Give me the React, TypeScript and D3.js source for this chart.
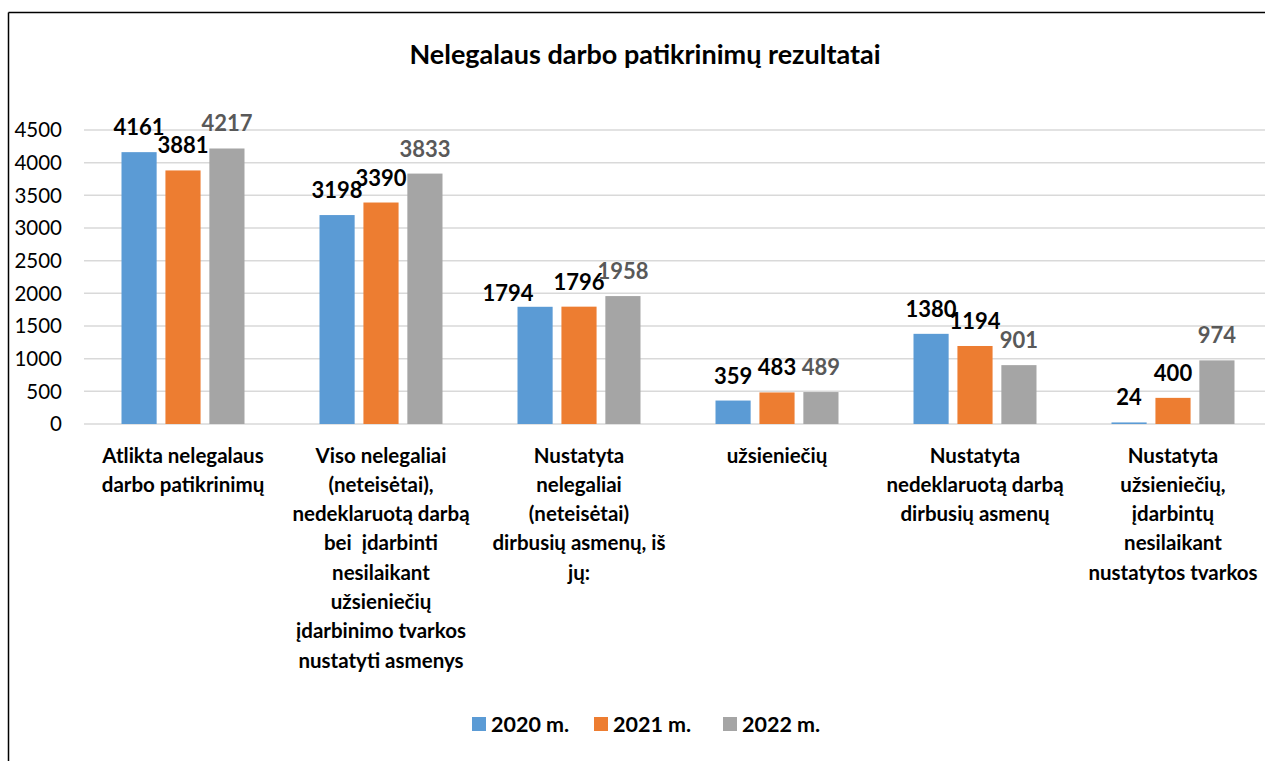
import React from "react";
import * as d3 from "d3";

const categories: string[][] = [
  ["Atlikta nelegalaus", "darbo patikrinimų"],
  ["Viso nelegaliai", "(neteisėtai),", "nedeklaruotą darbą", "bei  įdarbinti", "nesilaikant", "užsieniečių", "įdarbinimo tvarkos", "nustatyti asmenys"],
  ["Nustatyta", "nelegaliai", "(neteisėtai)", "dirbusių asmenų, iš", "jų:"],
  ["užsieniečių"],
  ["Nustatyta", "nedeklaruotą darbą", "dirbusių asmenų"],
  ["Nustatyta", "užsieniečių,", "įdarbintų", "nesilaikant", "nustatytos tvarkos"],
];

const seriesNames = ["2020 m.", "2021 m.", "2022 m."];
const values2020 = [4161, 3198, 1794, 359, 1380, 24];
const values2021 = [3881, 3390, 1796, 483, 1194, 400];
const values2022 = [4217, 3833, 1958, 489, 901, 974];
const yTicks = [0, 500, 1000, 1500, 2000, 2500, 3000, 3500, 4000, 4500];
const title = "Nelegalaus darbo patikrinimų rezultatai";

const colors = ["#5B9BD5", "#ED7D31", "#A5A5A5"];
const labelColors = ["#000000", "#000000", "#595959"];
// manual label nudges (layout only): "series-category" -> [dx, dy]
const labelNudge: Record<string, [number, number]> = { "0-2": [-27, 11] };

const W = 1265;
const H = 761;
const FONT = "Lato, 'Open Sans', sans-serif";

export default function App() {
  const series = [values2020, values2021, values2022];
  const left = 84;
  const step = 198;
  const x0 = d3
    .scaleBand<number>()
    .domain(d3.range(categories.length))
    .range([left, left + step * categories.length]);
  const groupW = 123;
  const x1 = d3
    .scaleBand<number>()
    .domain(d3.range(3))
    .range([0, groupW])
    .paddingInner(0.2);
  const y = d3.scaleLinear().domain([0, 4500]).range([424, 130]);

  return (
    <svg
      width={W}
      height={H}
      style={{ position: "absolute", left: 0, top: 0, background: "#fff" }}
    >
      <rect x={0} y={0} width={W} height={H} fill="#fff" />
      <line x1={8.5} y1={12.5} x2={W + 10} y2={12.5} stroke="#000" strokeWidth={1.5} />
      <line x1={8.5} y1={12.5} x2={8.5} y2={H + 10} stroke="#000" strokeWidth={1.5} />

      <text
        x={645}
        y={63.5}
        textAnchor="middle"
        fontFamily={FONT}
        fontWeight={700}
        fontSize={27}
        fill="#000"
      >
        {title}
      </text>

      {yTicks.map((t) => (
        <line
          key={"g" + t}
          x1={left}
          x2={W + 10}
          y1={y(t)}
          y2={y(t)}
          stroke="#D9D9D9"
          strokeWidth={1.5}
        />
      ))}
      {yTicks.map((t) => (
        <text
          key={"t" + t}
          x={62}
          y={y(t) + 7.4}
          textAnchor="end"
          fontFamily={FONT}
          fontSize={20.5}
          fill="#000"
        >
          {t}
        </text>
      ))}

      {categories.map((_, ci) => {
        const gx = (x0(ci) as number) + (step - groupW) / 2;
        return series.map((vals, si) => {
          const bx = gx + (x1(si) as number);
          const v = vals[ci];
          return (
            <rect
              key={`b${ci}-${si}`}
              x={bx}
              y={y(v)}
              width={x1.bandwidth()}
              height={y(0) - y(v)}
              fill={colors[si]}
            />
          );
        });
      })}

      {categories.map((_, ci) => {
        const gx = (x0(ci) as number) + (step - groupW) / 2;
        return series.map((vals, si) => {
          const bx = gx + (x1(si) as number) + x1.bandwidth() / 2;
          const v = vals[ci];
          const n = labelNudge[`${si}-${ci}`] || [0, 0];
          return (
            <text
              key={`l${ci}-${si}`}
              x={bx + n[0]}
              y={y(v) - 17 + n[1]}
              textAnchor="middle"
              fontFamily={FONT}
              fontWeight={700}
              fontSize={22}
              fill={labelColors[si]}
            >
              {v}
            </text>
          );
        });
      })}

      {categories.map((lines, ci) => {
        const cx = (x0(ci) as number) + step / 2;
        return (
          <text
            key={`c${ci}`}
            textAnchor="middle"
            fontFamily={FONT}
            fontWeight={700}
            fontSize={20.5}
            fill="#000"
          >
            {lines.map((ln, li) => (
              <tspan key={li} x={cx} y={462.5 + li * 29.3} style={{ whiteSpace: "pre" }}>
                {ln}
              </tspan>
            ))}
          </text>
        );
      })}

      {seriesNames.map((name, si) => {
        const lx = [472, 594, 723][si];
        return (
          <g key={`lg${si}`}>
            <rect x={lx} y={717} width={14} height={14} fill={colors[si]} />
            <text
              x={lx + 19}
              y={731.5}
              fontFamily={FONT}
              fontWeight={700}
              fontSize={21.5}
              fill="#000"
            >
              {name}
            </text>
          </g>
        );
      })}
    </svg>
  );
}
